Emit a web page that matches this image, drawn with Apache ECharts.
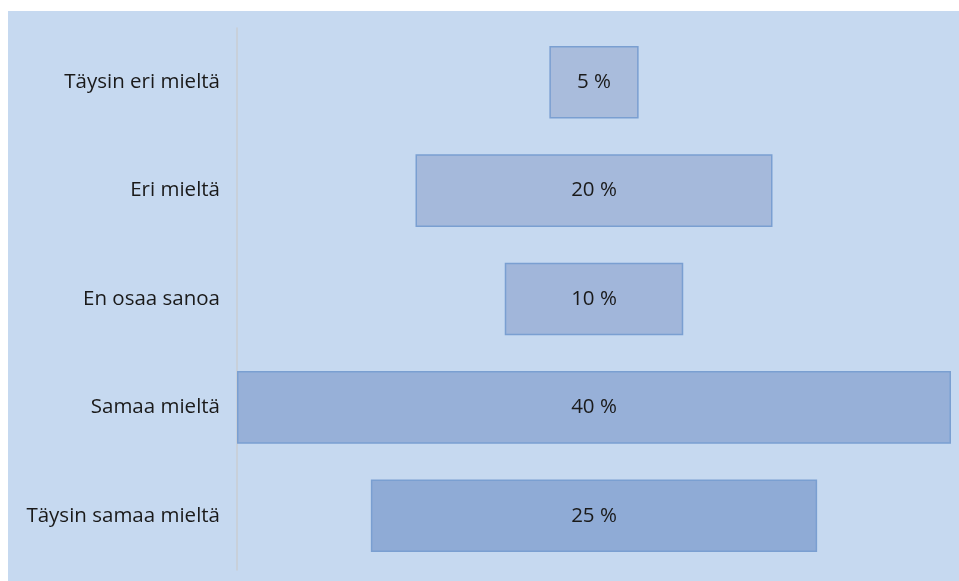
<!DOCTYPE html>
<html>
<head>
<meta charset="utf-8">
<style>
  html, body { margin: 0; padding: 0; background: #ffffff; }
  #chart { width: 959px; height: 581px; }
</style>
<script src="https://cdn.jsdelivr.net/npm/echarts@6/dist/echarts.min.js"></script>
</head>
<body>
<div id="chart"></div>
<script>
// Response categories, top to bottom
const categories = ['Täysin eri mieltä', 'Eri mieltä', 'En osaa sanoa', 'Samaa mieltä', 'Täysin samaa mieltä'];
// Share of answers, percent
const shares = [5, 20, 10, 40, 25];
// Bar fills, lightening toward the top
const barFills = ['#a9bcdc', '#a5b9db', '#a1b6da', '#97b0d8', '#8fabd6'];

const maxShare = Math.max(...shares);
// Invisible spacer that centres each bar on the middle of the axis
const spacer = shares.map(v => (maxShare - v) / 2);

const textFont = '"Open Sans", Lato, sans-serif';

const chart = echarts.init(document.getElementById('chart'), null, { renderer: 'canvas' });
chart.setOption({
  backgroundColor: '#ffffff',
  animation: false,
  graphic: [{
    type: 'rect',
    z: -10,
    shape: { x: 8, y: 11, width: 951, height: 570 },
    style: { fill: '#c6d9f0' },
    silent: true
  }],
  grid: { left: 237, right: 8, top: 28, bottom: 11, containLabel: false },
  xAxis: {
    type: 'value',
    min: 0,
    max: maxShare,
    show: false
  },
  yAxis: {
    type: 'category',
    data: categories,
    inverse: true,
    axisLine: { show: true, lineStyle: { color: '#c9cdd3', width: 1.5 } },
    axisTick: { show: false },
    axisLabel: {
      margin: 17,
      color: '#1a1a1a',
      fontFamily: textFont,
      fontSize: 20.5
    }
  },
  series: [
    {
      type: 'bar',
      stack: 'funnel',
      data: spacer,
      itemStyle: { color: 'transparent' },
      silent: true,
      barWidth: '67%'
    },
    {
      type: 'bar',
      stack: 'funnel',
      barWidth: '67%',
      data: shares.map((v, i) => ({
        value: v,
        itemStyle: { color: barFills[i] }
      })),
      itemStyle: { borderColor: '#7a9fd1', borderWidth: 1.5 },
      label: {
        show: true,
        position: 'inside',
        formatter: p => p.value + ' %',
        color: '#1a1a1a',
        fontFamily: textFont,
        fontSize: 20.5
      }
    }
  ]
});
</script>
</body>
</html>
